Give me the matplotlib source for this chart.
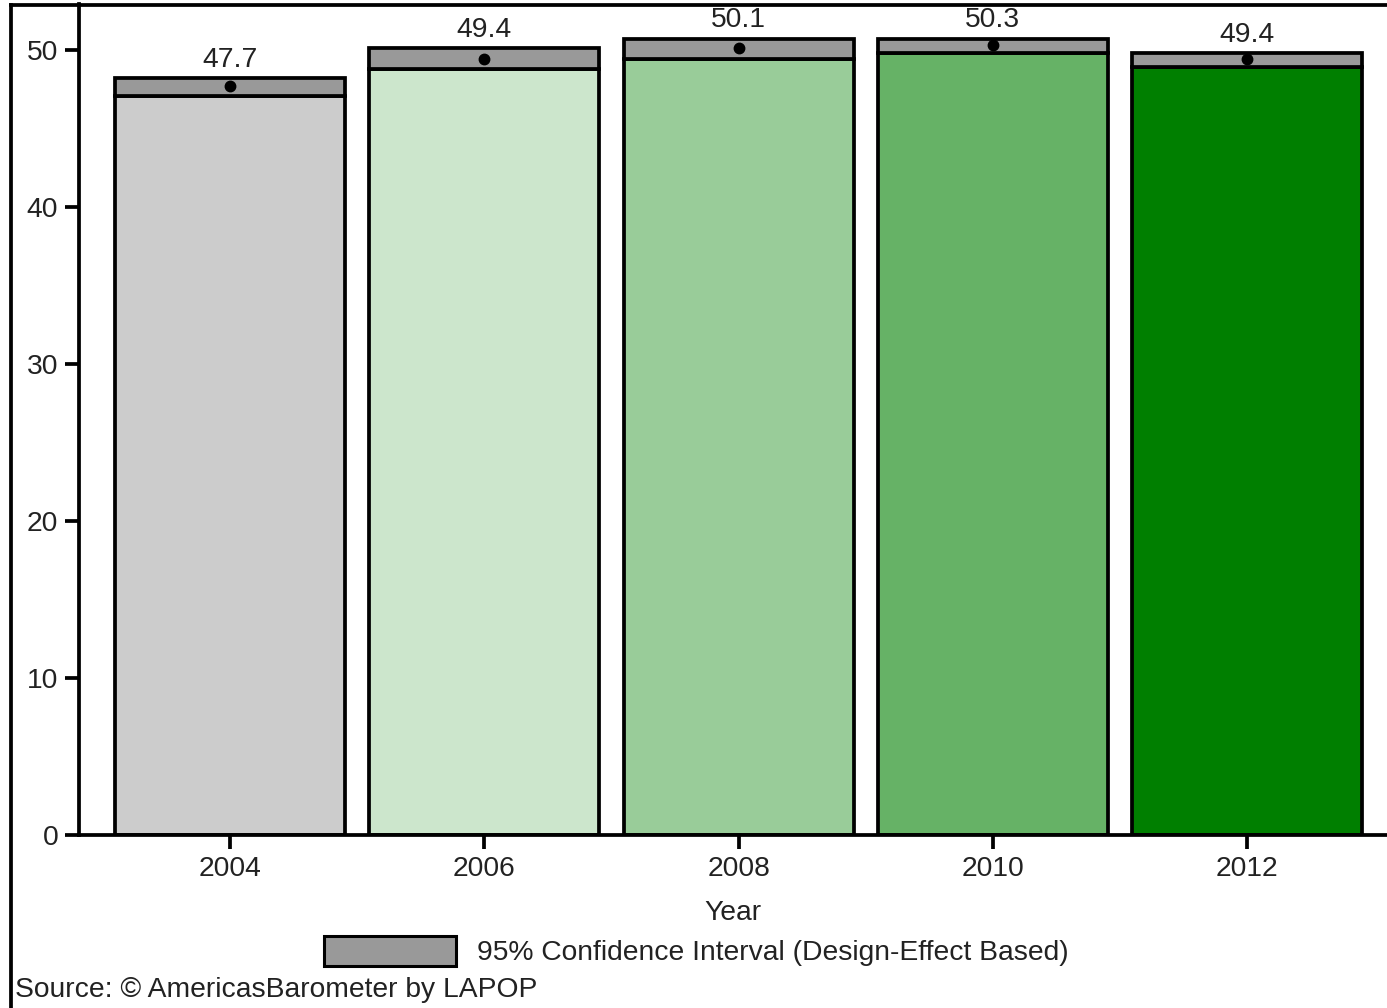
"""Bar chart of yearly means with 95% confidence bands (AmericasBarometer)."""

import matplotlib

matplotlib.use("Agg")
import matplotlib.pyplot as plt
from matplotlib.lines import Line2D
from matplotlib.patches import Patch

YEARS = ["2004", "2006", "2008", "2010", "2012"]
MEANS = [47.7, 49.4, 50.1, 50.3, 49.4]
CI_LOW = [47.1, 48.8, 49.4, 49.8, 48.9]
CI_HIGH = [48.2, 50.1, 50.7, 50.7, 49.8]
Y_TICKS = [0, 10, 20, 30, 40, 50]

BAR_COLORS = ["#cccccc", "#cce6cc", "#99cc99", "#66b266", "#007f00"]
CI_COLOR = "#999999"
TEXT_COLOR = "#222222"
LEGEND_LABEL = "95% Confidence Interval (Design-Effect Based)"
SOURCE = "Source: \u00a9 AmericasBarometer by LAPOP"


def main() -> None:
    plt.rcParams["font.family"] = ["Liberation Sans", "DejaVu Sans"]
    plt.rcParams["font.size"] = 20.3
    plt.rcParams["text.color"] = TEXT_COLOR

    fig = plt.figure(figsize=(13.87, 10.08), dpi=100)
    ax = fig.add_axes([0.057, 0.1716, 0.943, 0.8244])

    x = list(range(len(YEARS)))
    lw = 2.7
    ax.bar(x, CI_LOW, width=0.905, color=BAR_COLORS, edgecolor="black", linewidth=lw)
    ax.bar(
        x,
        [hi - lo for lo, hi in zip(CI_LOW, CI_HIGH)],
        bottom=CI_LOW,
        width=0.905,
        color=CI_COLOR,
        edgecolor="black",
        linewidth=lw,
    )
    ax.plot(x, MEANS, "o", color="black", markersize=7.5, zorder=5)
    for xi, mean, hi in zip(x, MEANS, CI_HIGH):
        ax.annotate(
            f"{mean:.1f}",
            (xi, hi),
            xytext=(0, 4),
            textcoords="offset points",
            ha="center",
            va="bottom",
            color=TEXT_COLOR,
        )

    ax.set_xlim(-0.594, 4.55)
    ax.set_ylim(0, 52.93)
    ax.set_xticks(x)
    ax.set_xticklabels(YEARS)
    ax.set_yticks(Y_TICKS)
    ax.tick_params(direction="out", length=10, width=lw, colors="black", labelcolor=TEXT_COLOR, pad=5)
    for side in ("top", "right"):
        ax.spines[side].set_visible(False)
    for side in ("left", "bottom"):
        ax.spines[side].set_linewidth(lw)
    ax.set_xlabel("Year", labelpad=13, color=TEXT_COLOR)

    fig.legend(
        handles=[Patch(facecolor=CI_COLOR, edgecolor="black", linewidth=2.2, label=LEGEND_LABEL)],
        loc="center",
        bbox_to_anchor=(0.502, 0.0565),
        frameon=False,
        handlelength=4.68,
        handleheight=1.28,
        handletextpad=0.75,
        borderpad=0,
    )
    fig.text(15 / 1387, 1 - 990 / 1008, SOURCE, ha="left", va="center")

    # outer frame on the left and top edges
    fig.add_artist(Line2D([0.0076, 0.0076], [0, 0.9955], color="black", linewidth=lw, transform=fig.transFigure))
    fig.add_artist(Line2D([0.0076, 1.0], [0.9955, 0.9955], color="black", linewidth=lw, transform=fig.transFigure))

    fig.savefig("out.png", dpi=100)
    plt.close(fig)


if __name__ == "__main__":
    main()
